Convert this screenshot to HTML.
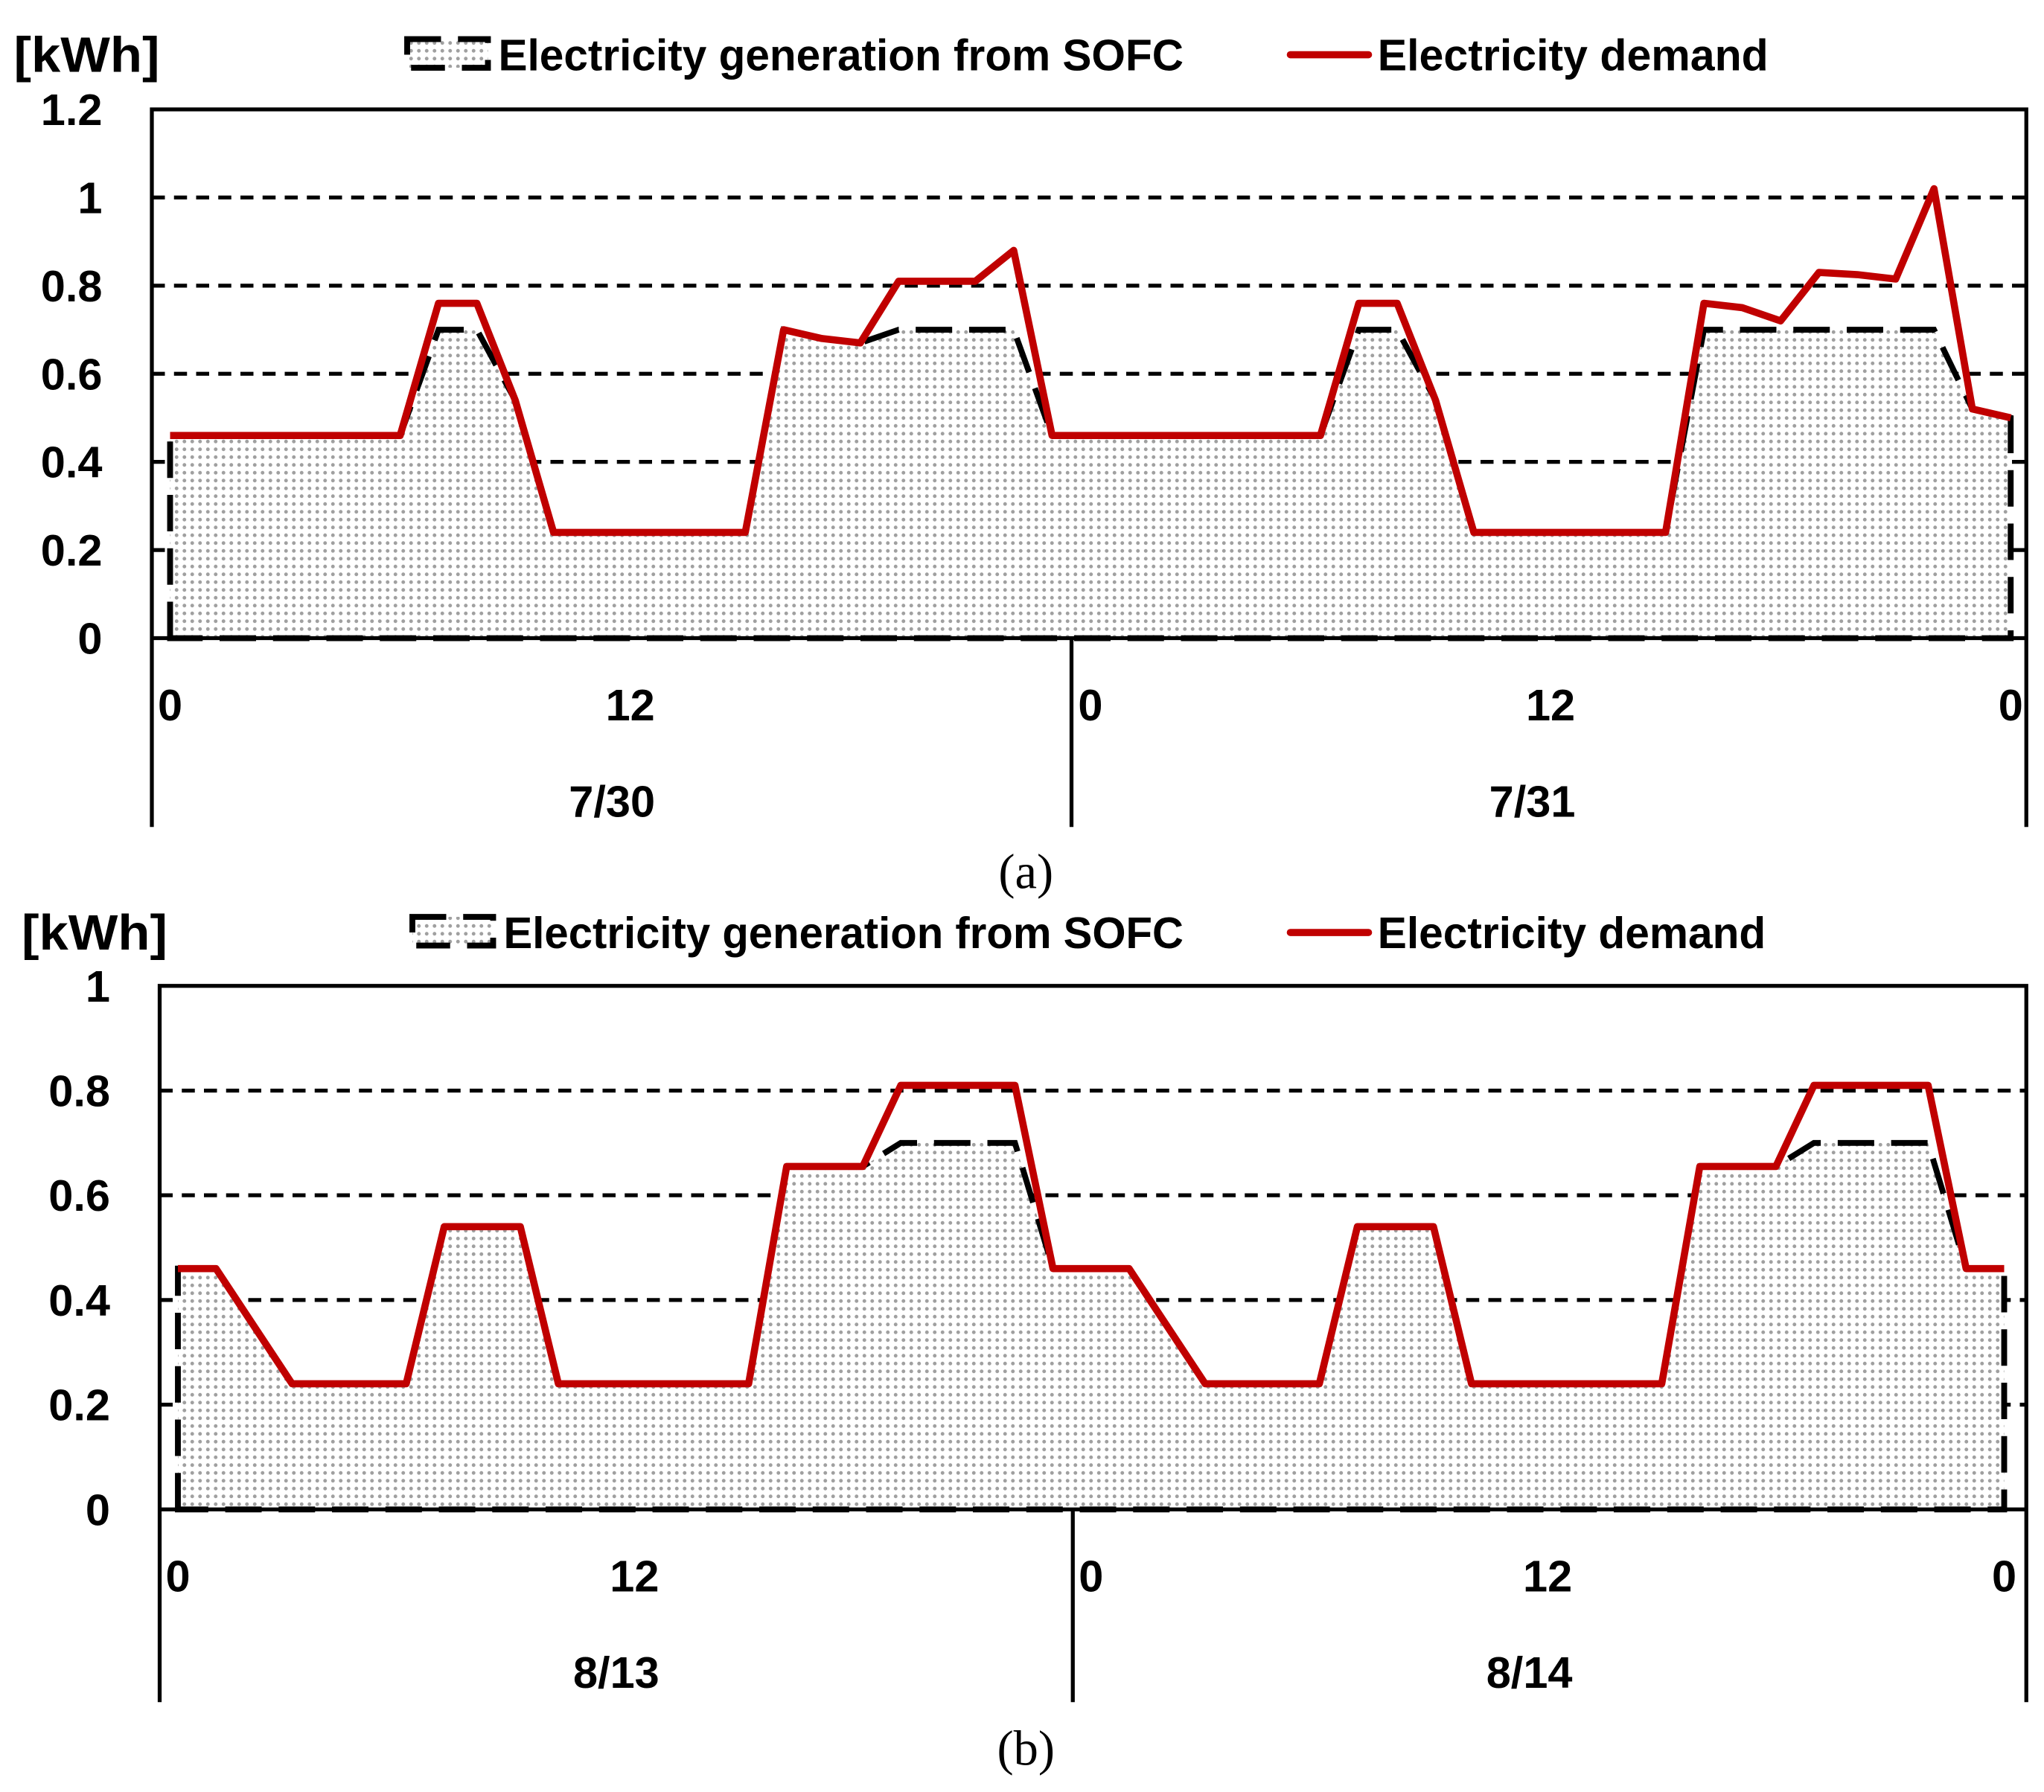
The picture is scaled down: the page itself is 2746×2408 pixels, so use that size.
<!DOCTYPE html>
<html><head><meta charset="utf-8"><style>
html,body{margin:0;padding:0;background:#fff;}
svg{display:block;}
text{font-family:"Liberation Sans",sans-serif;font-weight:bold;fill:#000;}
.serif{font-family:"Liberation Serif",serif;font-weight:normal;}
</style></head><body>
<svg id="root" width="2746" height="2408" viewBox="0 0 1568 1376" xmlns="http://www.w3.org/2000/svg">
<defs>
<pattern id="dots" width="6" height="6" patternUnits="userSpaceOnUse">
<rect width="6" height="6" fill="#fff"/>
<circle cx="3" cy="3" r="1.4" fill="#a0a0a0"/>
</pattern>
</defs>
<g id="chartA"></g>
<g id="chartB"></g>
</svg>
<script>
const hours = Array.from({length:49},(_,i)=>i);
const demandA = [0.46,0.46,0.46,0.46,0.46,0.46,0.46,0.76,0.76,0.54,0.24,0.24,0.24,0.24,0.24,0.24,0.70,0.68,0.67,0.81,0.81,0.81,0.88,0.46,
 0.46,0.46,0.46,0.46,0.46,0.46,0.46,0.76,0.76,0.54,0.24,0.24,0.24,0.24,0.24,0.24,0.76,0.75,0.72,0.83,0.825,0.815,1.02,0.52,0.50];
const genA = [0.46,0.46,0.46,0.46,0.46,0.46,0.46,0.70,0.70,0.54,0.24,0.24,0.24,0.24,0.24,0.24,0.70,0.68,0.67,0.70,0.70,0.70,0.70,0.46,
 0.46,0.46,0.46,0.46,0.46,0.46,0.46,0.70,0.70,0.54,0.24,0.24,0.24,0.24,0.24,0.24,0.70,0.70,0.70,0.70,0.70,0.70,0.70,0.52,0.50];
const demandB = [0.46,0.46,0.35,0.24,0.24,0.24,0.24,0.54,0.54,0.54,0.24,0.24,0.24,0.24,0.24,0.24,0.655,0.655,0.655,0.81,0.81,0.81,0.81,0.46,
 0.46,0.46,0.35,0.24,0.24,0.24,0.24,0.54,0.54,0.54,0.24,0.24,0.24,0.24,0.24,0.24,0.655,0.655,0.655,0.81,0.81,0.81,0.81,0.46,0.46];
const genB = [0.46,0.46,0.35,0.24,0.24,0.24,0.24,0.54,0.54,0.54,0.24,0.24,0.24,0.24,0.24,0.24,0.655,0.655,0.655,0.70,0.70,0.70,0.70,0.46,
 0.46,0.46,0.35,0.24,0.24,0.24,0.24,0.54,0.54,0.54,0.24,0.24,0.24,0.24,0.24,0.24,0.655,0.655,0.655,0.70,0.70,0.70,0.70,0.46,0.46];
const yTicksA = [0,0.2,0.4,0.6,0.8,1,1.2];
const yTickLabelsA = ["0","0.2","0.4","0.6","0.8","1","1.2"];
const yTicksB = [0,0.2,0.4,0.6,0.8,1];
const yTickLabelsB = ["0","0.2","0.4","0.6","0.8","1"];
const xTicks = [0,12,24,36,48];
const xTickLabels = ["0","12","0","12","0"];
const datesA = ["7/30","7/31"];
const datesB = ["8/13","8/14"];

const NS="http://www.w3.org/2000/svg";
function mk(parent,tag,attrs,txt){const e=document.createElementNS(NS,tag);for(const k in attrs)e.setAttribute(k,attrs[k]);if(txt!==undefined)e.textContent=txt;parent.appendChild(e);return e;}

function draw(g,c){
  const sx=h=>c.x0+(c.x48-c.x0)*h/48;
  const sy=v=>c.yb-(c.yb-c.yt)*v/c.ymax;
  c.yticks.forEach((t,i)=>{
    if(t>0 && t<c.ymax){const l=mk(g,'line',{x1:c.L,x2:c.R,y1:sy(t),y2:sy(t),stroke:'#000','stroke-width':3,'stroke-dasharray':'10 7'});
    
    }
    const tx=mk(g,'text',{x:c.L-38,y:sy(t)+12,'font-size':34,'text-anchor':'end'},c.ylabels[i]);
    
    
  });
  let d=`M${sx(0)},${sy(0)}`;
  c.gen.forEach((v,i)=>{d+=` L${sx(hours[i])},${sy(v)}`;});
  d+=` L${sx(48)},${sy(0)} Z`;
  const a=mk(g,'path',{d:d,fill:'url(#dots)',stroke:'#000','stroke-width':4.5,'stroke-dasharray':'28 13'});
  
  
  const pts=c.dem.map((v,i)=>`${sx(hours[i])},${sy(v)}`).join(' ');
  const p=mk(g,'polyline',{points:pts,fill:'none',stroke:'#c00000','stroke-width':5.5,'stroke-linejoin':'round'});
  
  
  const fr=mk(g,'path',{d:`M${c.L},${c.ab} L${c.L},${c.yt} L${c.R},${c.yt} L${c.R},${c.ab} M${c.L},${c.yb} L${c.R},${c.yb} M${c.mid},${c.yb} L${c.mid},${c.ab}`,fill:'none',stroke:'#000','stroke-width':3});
  
  
  xTicks.forEach((h,i)=>{
    const t=mk(g,'text',{x:sx(h),y:c.yb+63,'font-size':34,'text-anchor':'middle'},xTickLabels[i]);
    
    
  });
  c.dates.forEach((s,i)=>{
    const t=mk(g,'text',{x:sx(12+24*i)-14,y:c.yb+137,'font-size':34,'text-anchor':'middle'},s);
    
    
  });
  const u=mk(g,'text',{x:c.unitX,y:c.legY+13,'font-size':38,textLength:112,lengthAdjust:'spacingAndGlyphs'},'[kWh]');
  
  
  const lp=mk(g,'rect',{x:c.patchX,y:c.legY-12,width:62,height:22,fill:'url(#dots)',stroke:'#000','stroke-width':4.5,'stroke-dasharray':'26 13'});
  
  
  const lt=mk(g,'text',{x:c.patchX+70,y:c.legY+12,'font-size':34,textLength:c.t1w,lengthAdjust:'spacingAndGlyphs'},'Electricity generation from SOFC');
  
  
  const ll=mk(g,'line',{x1:990,x2:1050,y1:c.legY,y2:c.legY,stroke:'#c00000','stroke-width':5.5,'stroke-linecap':'round'});
  
  
  const lt2=mk(g,'text',{x:1057,y:c.legY+12,'font-size':34,textLength:c.t2w,lengthAdjust:'spacingAndGlyphs'},'Electricity demand');
  
  
  const cap=mk(g,'text',{x:787,y:c.capY,'font-size':38,'text-anchor':'middle','class':'serif'},c.cap);
  
  
}
draw(document.getElementById('chartA'),{L:116,R:1555,yt:84,yb:490,ab:635,mid:822,x0:130,x48:1543,ymax:1.2,
  yticks:yTicksA,ylabels:yTickLabelsA,gen:genA,dem:demandA,dates:datesA,unitX:10,legY:42,patchX:312,t1w:526,t2w:300,cap:'(a)',capY:682});
draw(document.getElementById('chartB'),{L:122,R:1555,yt:757,yb:1159,ab:1307,mid:823,x0:136,x48:1538,ymax:1,
  yticks:yTicksB,ylabels:yTickLabelsB,gen:genB,dem:demandB,dates:datesB,unitX:16,legY:716,patchX:316,t1w:522,t2w:298,cap:'(b)',capY:1355});
</script>
</body></html>
